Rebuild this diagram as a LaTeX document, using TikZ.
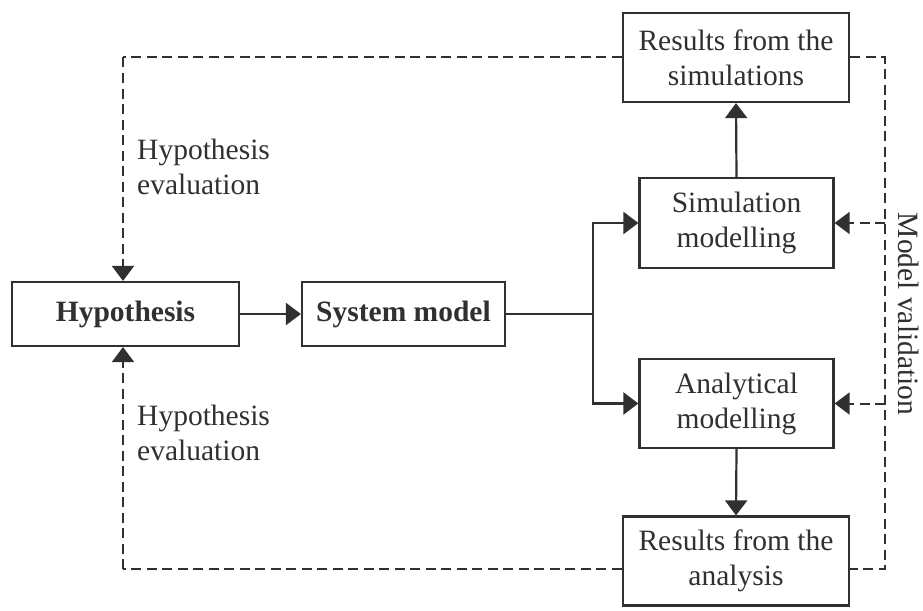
\documentclass[tikz,border=0pt]{standalone}
\usepackage{fontspec}
\setmainfont{Liberation Serif}
\usetikzlibrary{arrows.meta}
\definecolor{ink}{HTML}{303030}
\begin{document}
\begin{tikzpicture}[x=1pt,y=-1pt,
  every node/.style={font=\fontsize{29.5}{35}\selectfont, text=ink},
  box/.style={draw=ink, line width=2.2pt, fill=white, align=center, inner sep=0pt},
  flow/.style={draw=ink, line width=2.2pt, -{Triangle[length=15pt,width=22pt]}},
  plain/.style={draw=ink, line width=2.2pt},
  dashline/.style={draw=ink, line width=2pt, dash pattern=on 10pt off 5.5pt},
  dasharrow/.style={dashline, -{Triangle[length=15pt,width=22pt]}},
  note/.style={anchor=west, align=left, inner sep=0pt}]
\useasboundingbox (0,0) rectangle (923,610);

% boxes
\node[box, minimum width=227pt, minimum height=64pt, font=\fontsize{29.5}{35}\selectfont\bfseries] (hyp) at (125.5,314) {Hypothesis};
\node[box, minimum width=203pt, minimum height=64pt, font=\fontsize{29.5}{35}\selectfont\bfseries] (sys) at (403.5,314) {System model};
\node[box, minimum width=194pt, minimum height=90pt] (sim) at (736.5,223) {Simulation\\modelling};
\node[box, minimum width=194pt, minimum height=89pt] (ana) at (736.5,403.5) {Analytical\\modelling};
\node[box, minimum width=226pt, minimum height=89pt] (rsim) at (736,57.5) {Results from the\\simulations};
\node[box, minimum width=226pt, minimum height=89pt] (rana) at (736,561) {Results from the\\analysis};

% corners of the dashed feedback loop
\coordinate (tl) at (123,57.5);
\coordinate (tr) at (885,57.5);
\coordinate (bl) at (123,569);
\coordinate (br) at (885,569);
\coordinate (split) at (593,314);

% solid flow
\draw[flow] (hyp.east) -- (sys.west);
\draw[plain] (sys.east) -- (split);
\draw[flow] (split) |- (sim.west);
\draw[flow] (split) |- (ana.west);
\draw[flow] (sim.north) -- (rsim.south);
\draw[flow] (ana.south) -- (rana.north);

% dashed feedback
\draw[dashline] (rsim.west) -- (tl);
\draw[dasharrow] (tl) -- (hyp.north -| tl);
\draw[dashline] (rana.west |- bl) -- (bl);
\draw[dasharrow] (bl) -- (hyp.south -| bl);
\draw[dashline] (rsim.east) -- (tr) -- (br) -- (rana.east |- br);
\draw[dasharrow] (sim.east -| tr) -- (sim.east);
\draw[dasharrow] (ana.east -| tr) -- (ana.east);

% labels
\node[note] (ev1) at (137,167) {Hypothesis\\evaluation};
\node[note] (ev2) at (137,433) {Hypothesis\\evaluation};
\node[rotate=-90, inner sep=0pt] (mv) at (909,314) {Model validation};
\end{tikzpicture}
\end{document}
